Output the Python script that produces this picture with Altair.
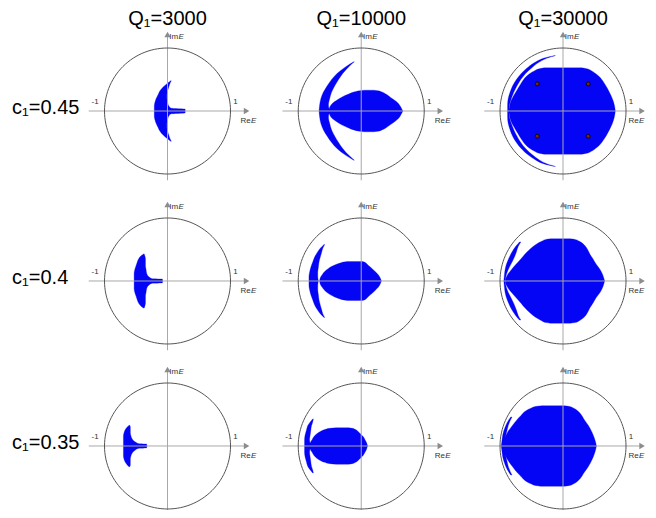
import altair as alt
import pandas as pd
import numpy as np

# ---------------- labels ----------------
col_labels = ["Q₁=3000", "Q₁=10000", "Q₁=30000"]
row_labels = ["c₁=0.45", "c₁=0.4", "c₁=0.35"]

# panel centres (in units of the unit-circle radius)
col_offsets = [0.0, 3.075, 6.278]
row_offsets = [0.0, -2.698, -5.317]
re_label_x = [1.32, 1.33, 1.20]   # right end of "Re" per column

# ---------------- region boundaries (upper half, mirrored about Re axis) ----------------
# c1=0.45, Q1=3000
s00_y  = [0.48, 0.44, 0.38, 0.32, 0.26, 0.20, 0.14, 0.08, 0.045, 0.03, 0.0]
s00_xl = [0.05, 0.00, -0.07, -0.12, -0.15, -0.18, -0.20, -0.21, -0.21, -0.21, -0.21]
s00_xr = [0.06, 0.04, 0.02, 0.00, -0.01, -0.01, 0.00, 0.02, 0.06, 0.28, 0.28]
# c1=0.45, Q1=10000 : crescent + lens
s01c_y  = [0.78, 0.70, 0.60, 0.50, 0.40, 0.30, 0.20, 0.10, 0.0]
s01c_xl = [-0.12, -0.25, -0.38, -0.47, -0.54, -0.60, -0.64, -0.66, -0.67]
s01c_xr = [-0.11, -0.20, -0.29, -0.36, -0.42, -0.47, -0.50, -0.52, -0.50]
s01l_y  = [0.33, 0.32, 0.30, 0.27, 0.22, 0.17, 0.12, 0.06, 0.0]
s01l_xl = [0.05, -0.03, -0.12, -0.20, -0.31, -0.39, -0.46, -0.50, -0.52]
s01l_xr = [0.20, 0.27, 0.33, 0.39, 0.46, 0.53, 0.59, 0.63, 0.66]
# c1=0.45, Q1=30000 : crescent + disc
s02c_y  = [0.88, 0.84, 0.78, 0.70, 0.60, 0.50, 0.40, 0.30, 0.20, 0.10, 0.0]
s02c_xl = [-0.13, -0.30, -0.43, -0.55, -0.66, -0.74, -0.80, -0.84, -0.87, -0.88, -0.88]
s02c_xr = [-0.12, -0.25, -0.37, -0.48, -0.59, -0.67, -0.73, -0.78, -0.82, -0.85, -0.86]
s02d_y  = [0.685, 0.67, 0.64, 0.60, 0.55, 0.45, 0.35, 0.25, 0.15, 0.07, 0.0]
s02d_xl = [-0.30, -0.38, -0.45, -0.52, -0.58, -0.66, -0.72, -0.78, -0.83, -0.85, -0.86]
s02d_xr = [0.30, 0.38, 0.45, 0.51, 0.57, 0.65, 0.71, 0.76, 0.80, 0.82, 0.83]
# c1=0.4, Q1=3000
s10_y  = [0.43, 0.40, 0.35, 0.30, 0.24, 0.18, 0.12, 0.07, 0.035, 0.03, 0.0]
s10_xl = [-0.38, -0.42, -0.46, -0.48, -0.50, -0.52, -0.53, -0.53, -0.53, -0.53, -0.53]
s10_xr = [-0.37, -0.36, -0.35, -0.35, -0.35, -0.34, -0.33, -0.30, -0.24, -0.08, -0.08]
# c1=0.4, Q1=10000
s11c_y  = [0.58, 0.52, 0.45, 0.38, 0.30, 0.22, 0.14, 0.07, 0.0]
s11c_xl = [-0.59, -0.65, -0.70, -0.74, -0.77, -0.80, -0.82, -0.83, -0.83]
s11c_xr = [-0.58, -0.61, -0.63, -0.65, -0.67, -0.68, -0.69, -0.69, -0.68]
s11l_y  = [0.31, 0.30, 0.28, 0.25, 0.20, 0.15, 0.10, 0.05, 0.0]
s11l_xl = [-0.22, -0.28, -0.35, -0.43, -0.52, -0.58, -0.62, -0.65, -0.66]
s11l_xr = [0.02, 0.05, 0.08, 0.11, 0.17, 0.22, 0.27, 0.30, 0.32]
# c1=0.4, Q1=30000
s12c_y  = [0.62, 0.55, 0.46, 0.36, 0.26, 0.18, 0.10, 0.0]
s12c_xl = [-0.69, -0.75, -0.81, -0.86, -0.90, -0.92, -0.93, -0.94]
s12c_xr = [-0.67, -0.71, -0.74, -0.78, -0.83, -0.87, -0.90, -0.92]
s12d_y  = [0.67, 0.66, 0.63, 0.58, 0.50, 0.42, 0.36, 0.26, 0.18, 0.10, 0.04, 0.0]
s12d_xl = [-0.20, -0.27, -0.34, -0.43, -0.53, -0.61, -0.66, -0.75, -0.82, -0.88, -0.91, -0.92]
s12d_xr = [0.12, 0.19, 0.26, 0.33, 0.39, 0.43, 0.47, 0.53, 0.59, 0.63, 0.65, 0.66]
# c1=0.35, Q1=3000
s20_y  = [0.33, 0.30, 0.26, 0.21, 0.16, 0.11, 0.07, 0.035, 0.03, 0.0]
s20_xl = [-0.61, -0.64, -0.67, -0.69, -0.70, -0.70, -0.70, -0.70, -0.70, -0.70]
s20_xr = [-0.60, -0.59, -0.59, -0.59, -0.58, -0.56, -0.52, -0.45, -0.33, -0.33]
# c1=0.35, Q1=10000
s21c_y  = [0.43, 0.38, 0.32, 0.25, 0.18, 0.10, 0.0]
s21c_xl = [-0.77, -0.81, -0.85, -0.87, -0.89, -0.90, -0.90]
s21c_xr = [-0.76, -0.77, -0.79, -0.80, -0.81, -0.82, -0.80]
s21l_y  = [0.29, 0.28, 0.26, 0.23, 0.19, 0.15, 0.10, 0.05, 0.0]
s21l_xl = [-0.40, -0.50, -0.58, -0.65, -0.71, -0.75, -0.78, -0.81, -0.82]
s21l_xr = [-0.20, -0.14, -0.09, -0.05, -0.01, 0.03, 0.06, 0.085, 0.10]
# c1=0.35, Q1=30000
s22c_y  = [0.46, 0.40, 0.32, 0.24, 0.16, 0.08, 0.0]
s22c_xl = [-0.83, -0.87, -0.91, -0.94, -0.96, -0.97, -0.98]
s22c_xr = [-0.81, -0.84, -0.87, -0.89, -0.91, -0.93, -0.95]
s22d_y  = [0.64, 0.63, 0.60, 0.55, 0.48, 0.43, 0.33, 0.22, 0.12, 0.05, 0.0]
s22d_xl = [-0.34, -0.42, -0.51, -0.60, -0.67, -0.72, -0.80, -0.88, -0.93, -0.96, -0.97]
s22d_xr = [0.02, 0.09, 0.17, 0.24, 0.30, 0.33, 0.40, 0.46, 0.50, 0.52, 0.53]

# marked points (c1=0.45, Q1=30000)
dots_x = [-0.41, 0.40, -0.41, 0.40]
dots_y = [0.43, 0.43, -0.40, -0.40]

shapes = [
    ("s00", 0, 0, s00_y, s00_xl, s00_xr),
    ("s01c", 0, 1, s01c_y, s01c_xl, s01c_xr),
    ("s01l", 0, 1, s01l_y, s01l_xl, s01l_xr),
    ("s02c", 0, 2, s02c_y, s02c_xl, s02c_xr),
    ("s02d", 0, 2, s02d_y, s02d_xl, s02d_xr),
    ("s10", 1, 0, s10_y, s10_xl, s10_xr),
    ("s11c", 1, 1, s11c_y, s11c_xl, s11c_xr),
    ("s11l", 1, 1, s11l_y, s11l_xl, s11l_xr),
    ("s12c", 1, 2, s12c_y, s12c_xl, s12c_xr),
    ("s12d", 1, 2, s12d_y, s12d_xl, s12d_xr),
    ("s20", 2, 0, s20_y, s20_xl, s20_xr),
    ("s21c", 2, 1, s21c_y, s21c_xl, s21c_xr),
    ("s21l", 2, 1, s21l_y, s21l_xl, s21l_xr),
    ("s22c", 2, 2, s22c_y, s22c_xl, s22c_xr),
    ("s22d", 2, 2, s22d_y, s22d_xl, s22d_xr),
]

# ---------------- build tables (upper and lower halves as separate pieces) ----------------
area_rows = []
for name, r, c, ys, xl, xr in shapes:
    for half, sign in (("u", 1), ("d", -1)):
        for y, a, b in zip(ys, xl, xr):
            area_rows.append({"shape": name + half, "y": row_offsets[r] + sign * y,
                              "xl": col_offsets[c] + a, "xr": col_offsets[c] + b})
area_df = pd.DataFrame(area_rows)

circ_rows, hrule, vrule, arrow_r, arrow_u, ticks, re_df, e_df = [], [], [], [], [], [], [], []
for r in range(3):
    for c in range(3):
        ox, oy = col_offsets[c], row_offsets[r]
        pid = f"{r}{c}"
        for t in range(0, 361, 3):
            circ_rows.append({"panel": pid, "t": t,
                              "x": ox + np.cos(np.radians(t)), "y": oy + np.sin(np.radians(t))})
        hrule.append({"x1": ox - 1.25, "x2": ox + 1.24, "y": oy})
        vrule.append({"x": ox, "y1": oy - 1.10, "y2": oy + 1.20})
        arrow_r.append({"x": ox + 1.255, "y": oy})
        arrow_u.append({"x": ox, "y": oy + 1.215})
        ticks.append({"x": ox - 1.15, "y": oy + 0.14, "text": "-1"})
        ticks.append({"x": ox + 1.08, "y": oy + 0.14, "text": "1"})
        re_df.append({"x": ox + re_label_x[c], "y": oy - 0.16, "text": "Re"})
        re_df.append({"x": ox + 0.17, "y": oy + 1.18, "text": "Im"})
        e_df.append({"x": ox + re_label_x[c] + 0.005, "y": oy - 0.16, "text": "E"})
        e_df.append({"x": ox + 0.175, "y": oy + 1.18, "text": "E"})

circ_df = pd.DataFrame(circ_rows)
dots_df = pd.DataFrame({"x": [col_offsets[2] + v for v in dots_x],
                        "y": [row_offsets[0] + v for v in dots_y]})
col_df = pd.DataFrame({"x": col_offsets, "y": [1.37] * 3, "text": col_labels})
row_df = pd.DataFrame({"x": [-2.468] * 3, "y": [o - 0.05 for o in row_offsets], "text": row_labels})

# ---------------- scales ----------------
xs = alt.Scale(domain=[-2.532, 7.627], nice=False, zero=False)
ys_ = alt.Scale(domain=[-6.333, 1.635], nice=False, zero=False)
BLUE = "#0505f5"
FONT = "Liberation Sans"

def X(f):
    return alt.X(f, type="quantitative", scale=xs, axis=None)

def Y(f):
    return alt.Y(f, type="quantitative", scale=ys_, axis=None)

areas = alt.Chart(area_df).mark_area(orient="horizontal", color=BLUE, opacity=1,
                                     interpolate="monotone", stroke=BLUE, strokeWidth=0.3).encode(
    y=Y("y"), x=X("xl"), x2="xr", detail="shape:N")

hr = alt.Chart(pd.DataFrame(hrule)).mark_rule(color="#a8a8a8", strokeWidth=1).encode(
    x=X("x1"), x2="x2", y=Y("y"))
vr = alt.Chart(pd.DataFrame(vrule)).mark_rule(color="#a8a8a8", strokeWidth=1, clip=True).encode(
    x=X("x"), y=Y("y1"), y2="y2")
ar = alt.Chart(pd.DataFrame(arrow_r)).mark_point(shape="triangle-right", filled=True,
                                                color="#8c8c8c", size=40, opacity=1).encode(x=X("x"), y=Y("y"))
au = alt.Chart(pd.DataFrame(arrow_u)).mark_point(shape="triangle-up", filled=True,
                                                color="#8c8c8c", size=40, opacity=1).encode(x=X("x"), y=Y("y"))

circle = alt.Chart(circ_df).mark_line(color="#555555", strokeWidth=1).encode(
    x=X("x"), y=Y("y"), order="t:Q", detail="panel:N")

dots = alt.Chart(dots_df).mark_point(filled=True, fill="#7a2a10", stroke="#000000",
                                     strokeWidth=0.8, size=16, opacity=1).encode(x=X("x"), y=Y("y"))

tick_t = alt.Chart(pd.DataFrame(ticks)).mark_text(font=FONT, fontSize=8, color="#333333",
                                                 align="center", baseline="middle").encode(
    x=X("x"), y=Y("y"), text="text:N")
re_t = alt.Chart(pd.DataFrame(re_df)).mark_text(font=FONT, fontSize=8, color="#333333",
                                               align="right", baseline="middle").encode(
    x=X("x"), y=Y("y"), text="text:N")
e_t = alt.Chart(pd.DataFrame(e_df)).mark_text(font=FONT, fontSize=8, color="#333333", fontStyle="italic",
                                             align="left", baseline="middle").encode(
    x=X("x"), y=Y("y"), text="text:N")

col_t = alt.Chart(col_df).mark_text(font=FONT, fontSize=20, color="#000000",
                                    align="center", baseline="alphabetic").encode(
    x=X("x"), y=Y("y"), text="text:N")
row_t = alt.Chart(row_df).mark_text(font=FONT, fontSize=20, color="#000000",
                                    align="left", baseline="alphabetic").encode(
    x=X("x"), y=Y("y"), text="text:N")

chart = alt.layer(areas, hr, vr, ar, au, circle, dots, tick_t, re_t, e_t, col_t, row_t).properties(
    width=640, height=502, padding=0,
    autosize=alt.AutoSizeParams(type="none"),
    background="#ffffff",
).configure_view(stroke=None)

chart.save("out.html", embed_options={"renderer": "svg", "actions": False})
